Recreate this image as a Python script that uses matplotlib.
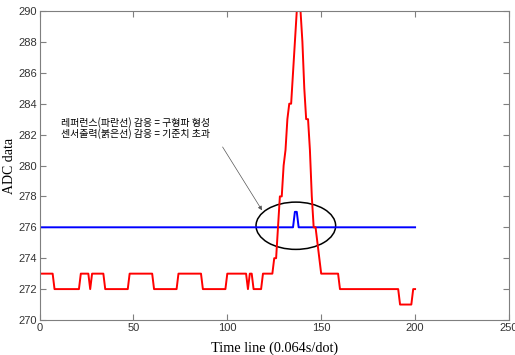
import matplotlib
matplotlib.use("Agg")
import matplotlib.pyplot as plt
from matplotlib.patches import Ellipse

# ---- data ----
red_x = list(range(1, 201))
red_y = ([273]*7 + [272]*14 + [273]*5 + [272] + [273]*7 + [272]*13 + [273]*13 +
         [272]*13 + [273]*13 + [272]*13 + [273]*11 + [272] + [273]*2 + [272]*5 +
         [273]*6 + [274]*2 + [276] + [278]*2 + [280, 281, 283] + [284]*2 +
         [286, 288] + [290]*3 + [288, 285] + [283]*2 + [281, 278] + [276]*2 +
         [275, 274] + [273]*10 + [272]*32 + [271]*7 + [272]*2)
blue_x = list(range(0, 201))
blue_y = [276]*136 + [277]*2 + [276]*63

x_ticks = [0, 50, 100, 150, 200, 250]
y_ticks = list(range(270, 291, 2))
note_lines = ["레퍼런스(파란선) 감응 = 구형파 형성", "센서출력(붉은선) 감응 = 기준치 초과"]
x_label = "Time line (0.064s/dot)"
y_label = "ADC data"

# ---- figure ----
fig = plt.figure(figsize=(5.15, 3.55), dpi=100)
ax = fig.add_axes([0.0767, 0.0986, 0.9116, 0.8704])

ax.plot(blue_x, blue_y, color="#0000ff", lw=1.4)
ax.plot(red_x, red_y, color="#ff0000", lw=1.4)

ax.set_xlim(0, 250)
ax.set_ylim(270, 290)
ax.set_xticks(x_ticks)
ax.set_yticks(y_ticks)

grey = "#7f7f7f"
for s in ax.spines.values():
    s.set_color(grey)
    s.set_linewidth(0.8)
ax.tick_params(direction="in", length=4, width=0.8, color=grey,
               top=True, right=True, labelsize=8, labelcolor="#333333", pad=2)
for lab in ax.get_xticklabels() + ax.get_yticklabels():
    lab.set_family("Liberation Sans")

ax.set_xlabel(x_label, family="Liberation Serif", fontsize=10.3, labelpad=6)
ax.set_ylabel(y_label, family="Liberation Serif", fontsize=10)
ax.yaxis.set_label_coords(-0.05, 0.5)

# annotation text
ax.text(11.3, 282.76, note_lines[0], family=["Noto Sans CJK KR", "DejaVu Sans"],
        fontsize=7.2, va="center", ha="left", color="black")
ax.text(11.3, 282.04, note_lines[1], family=["Noto Sans CJK KR", "DejaVu Sans"],
        fontsize=7.2, va="center", ha="left", color="black")

ax.annotate("", xy=(118.5, 277.1), xytext=(97.5, 281.2),
            arrowprops=dict(arrowstyle="-|>", color="#555555", lw=0.5,
                            mutation_scale=6, shrinkA=0, shrinkB=0))

ax.add_patch(Ellipse((136.5, 276.1), 42.4, 3.06, fill=False,
                     edgecolor="black", lw=1.1))

fig.savefig("out.png", dpi=100)
